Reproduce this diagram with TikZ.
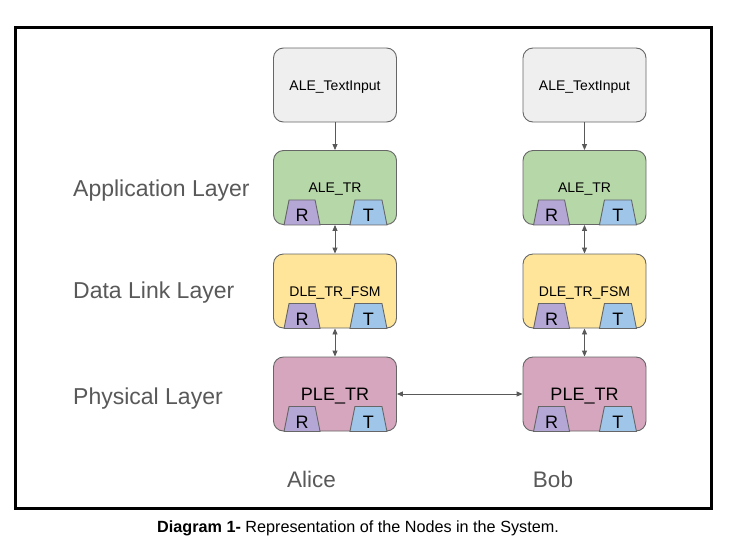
\documentclass[tikz,border=0pt]{standalone}
\usepackage{fontspec}
\setmainfont{Liberation Sans}
\usetikzlibrary{arrows.meta}
\definecolor{strokeg}{HTML}{666666}
\definecolor{arrowg}{HTML}{595959}
\definecolor{labelg}{HTML}{595959}
\definecolor{fillin}{HTML}{EFEFEF}
\definecolor{fillgreen}{HTML}{B6D7A8}
\definecolor{fillyellow}{HTML}{FFE599}
\definecolor{fillpink}{HTML}{D5A6BD}
\definecolor{fillpurple}{HTML}{B4A7D6}
\definecolor{fillblue}{HTML}{9FC5E8}
\tikzset{
  blk/.style={draw=strokeg, line width=0.9pt, rounded corners=10pt, minimum width=123pt, minimum height=74pt, inner sep=0pt, text height=10pt, text depth=0pt, font=\fontsize{14}{16}\selectfont},
  bigtxt/.style={text height=13pt, text depth=0pt, font=\fontsize{18}{20}\selectfont},
  trap/.style={draw=strokeg, line width=0.9pt},
  rtletter/.style={inner sep=0pt, text height=13pt, text depth=0pt, font=\fontsize{18}{20}\selectfont},
  layerlbl/.style={anchor=base west, inner sep=0pt, text=labelg, font=\fontsize{23}{26}\selectfont},
  person/.style={anchor=base, inner sep=0pt, text=labelg, font=\fontsize{22.5}{26}\selectfont},
  arr/.style={draw=arrowg, line width=0.9pt, -{Triangle[length=6pt,width=5pt]}},
  darr/.style={draw=arrowg, line width=0.9pt, {Triangle[length=6pt,width=5pt]}-{Triangle[length=6pt,width=5pt]}},
}
\newcommand\rtpair[1]{%
  \draw[trap, fill=fillpurple] ([xshift=11pt]#1.south west) -- ++(5,-25) -- ++(26,0) -- ++(5,25) -- cycle;
  \draw[trap, fill=fillblue] ([xshift=-10pt]#1.south east) -- ++(-5,-25) -- ++(-27,0) -- ++(-5,25) -- cycle;
  \node[rtletter] (#1R) at ([xshift=29pt,yshift=9.5pt]#1.south west) {R};
  \node[rtletter] (#1T) at ([xshift=-28.5pt,yshift=9.5pt]#1.south east) {T};
}
\begin{document}
\begin{tikzpicture}[x=1pt,y=-1pt]
\useasboundingbox[fill=white] (0,0) rectangle (733,544);
\draw[line width=3pt, black] (15,27) rectangle (711,508);

% Alice column
\node[blk, fill=fillin] (aIn) at (335,85) {ALE\_TextInput};
\node[blk, fill=fillgreen] (aA) at (335,187.5) {ALE\_TR};
\node[blk, fill=fillyellow] (aD) at (335,291) {DLE\_TR\_FSM};
\node[blk, fill=fillpink, bigtxt] (aP) at (335,394) {PLE\_TR};
\rtpair{aA}\rtpair{aD}\rtpair{aP}

% Bob column
\node[blk, fill=fillin] (bIn) at (584.5,85) {ALE\_TextInput};
\node[blk, fill=fillgreen] (bA) at (584.5,187.5) {ALE\_TR};
\node[blk, fill=fillyellow] (bD) at (584.5,291) {DLE\_TR\_FSM};
\node[blk, fill=fillpink, bigtxt] (bP) at (584.5,394) {PLE\_TR};
\rtpair{bA}\rtpair{bD}\rtpair{bP}

% connectors
\draw[arr] (aIn) -- (aA);
\draw[arr] (bIn) -- (bA);
\draw[darr] (aA) -- (aD);
\draw[darr] (aD) -- (aP);
\draw[darr] (bA) -- (bD);
\draw[darr] (bD) -- (bP);
\draw[darr] (aP) -- (bP);

% labels
\node[layerlbl] (lApp) at (73,196) {Application Layer};
\node[layerlbl] (lDL) at (73,298.5) {Data Link Layer};
\node[layerlbl] (lPh) at (73,404.5) {Physical Layer};
\node[person] (alice) at (311.5,487) {Alice};
\node[person] (bob) at (553,487) {Bob};

\node[anchor=base west, inner sep=0pt, font=\fontsize{16.2}{19}\selectfont] (cap) at (157,532) {\textbf{Diagram 1-} Representation of the Nodes in the System.};
\end{tikzpicture}
\end{document}
